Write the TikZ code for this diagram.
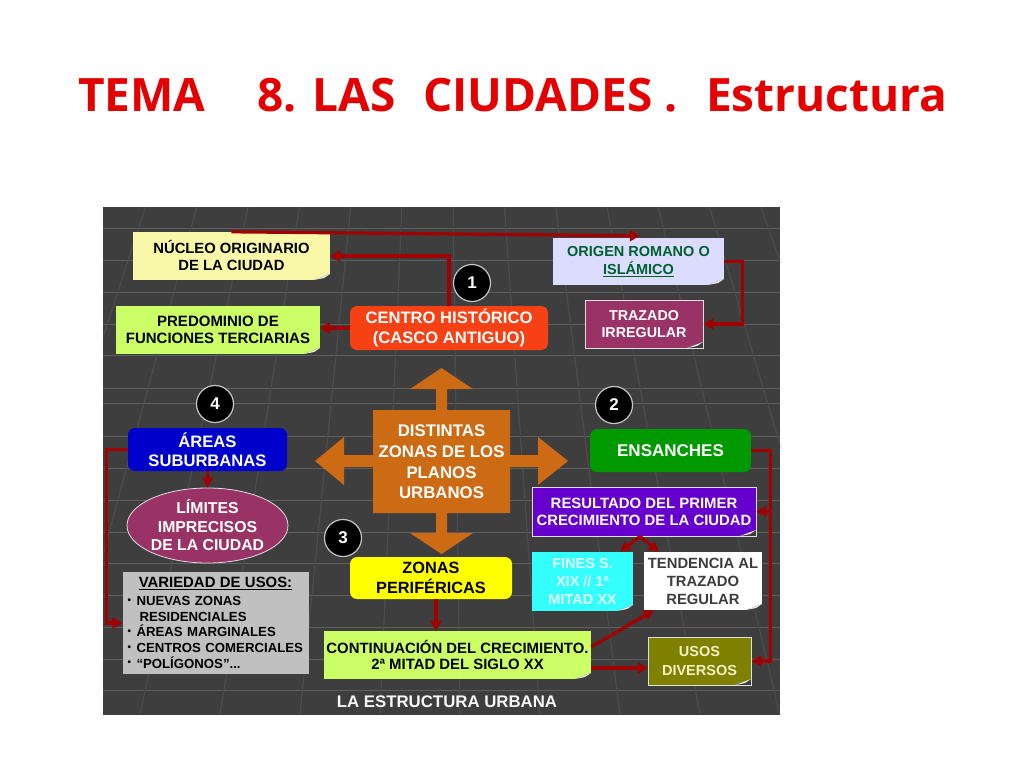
\documentclass[tikz,border=0pt]{standalone}
\usepackage{fontspec}
\setmainfont{Liberation Sans}
\newfontfamily\titlefont{Open Sans}
\usetikzlibrary{arrows.meta,shapes.geometric}
\newcommand\myfs[2]{\fontsize{#1}{#2}\selectfont}
\newcommand\mybul{\makebox[9pt][l]{\raisebox{2.5pt}{\myfs{10}{10}•}}}
\definecolor{bgc}{RGB}{62,62,62}
\definecolor{gridh}{RGB}{95,95,95}
\definecolor{gridv}{RGB}{76,76,76}
\definecolor{titlered}{RGB}{228,0,0}
\definecolor{linkred}{RGB}{160,0,0}
\definecolor{cnucleo}{RGB}{248,248,168}
\definecolor{cgreenl}{RGB}{204,255,102}
\definecolor{ccentro}{RGB}{245,65,20}
\definecolor{corigen}{RGB}{220,220,255}
\definecolor{corigtx}{RGB}{0,96,48}
\definecolor{cmag}{RGB}{153,51,102}
\definecolor{careas}{RGB}{0,0,204}
\definecolor{cens}{RGB}{0,153,0}
\definecolor{cres}{RGB}{102,0,204}
\definecolor{cfines}{RGB}{51,255,255}
\definecolor{cfinestx}{RGB}{225,255,255}
\definecolor{ctendtx}{RGB}{60,60,60}
\definecolor{czonas}{RGB}{255,255,0}
\definecolor{cvar}{RGB}{192,192,192}
\definecolor{cusos}{RGB}{128,128,0}
\definecolor{cusostx}{RGB}{242,242,195}
\definecolor{ccross}{RGB}{205,106,20}
\begin{document}
\begin{tikzpicture}[x=1pt,y=-1pt,
  box/.style={rectangle, inner sep=0pt, align=center, font=\bfseries\myfs{15}{17}},
  note/.style={box, path picture={
     \fill[bgc] ([xshift=-16pt]path picture bounding box.south east) -- (path picture bounding box.south east) -- ([yshift=6pt]path picture bounding box.south east) -- cycle;
     \fill[white!88!gray] ([xshift=-16pt]path picture bounding box.south east) -- ([yshift=6pt]path picture bounding box.south east) -- ([xshift=-6pt,yshift=2pt]path picture bounding box.south east) -- cycle;}},
  rbox/.style={box, rounded corners=7pt},
  num/.style={circle, fill=black, draw=gray!45, line width=1.2pt, minimum size=37pt, inner sep=0pt, text=white, font=\bfseries\myfs{17}{17}},
  conn/.style={draw=linkred, line width=3.2pt, -{Triangle[length=10pt,width=11pt]}},
  ttl/.style={anchor=base west, inner sep=0pt, text=titlered, font=\titlefont\bfseries\myfs{46}{50}}
]
\useasboundingbox (0,0) rectangle (1024,768);
\fill[white] (0,0) rectangle (1024,768);

% title
\node[ttl] (t1) at (78,111) {TEMA};
\node[ttl] (t2) at (257,111) {8. LAS};
\node[ttl] (t3) at (423,111) {CIUDADES .};
\node[ttl] (t4) at (706,111) {Estructura};

% background panel
\fill[bgc] (103,207) rectangle (780,715);
\begin{scope}
\clip (103,207) rectangle (780,715);
\foreach \yy in {228,260,292,324,355,388,403,436,468,500,532,563,595,627,659,690}
  \draw[gridh, line width=1pt] (103,\yy) -- (780,\yy);
\foreach \xx in {-500,-420,...,1400}
  \draw[gridv, line width=1.2pt] (441,-700) -- (\xx,715);
\end{scope}

% central cross
\fill[ccross] (441.5,368) -- (473,389) -- (447,389) -- (447,410) -- (510,410) -- (510,455) -- (538,455) -- (538,437) -- (568,461) -- (538,485) -- (538,467) -- (510,467) -- (510,513) -- (447,513) -- (447,533) -- (473,533) -- (441.5,554) -- (410,533) -- (436,533) -- (436,513) -- (373,513) -- (373,467) -- (344,467) -- (344,485) -- (315,461) -- (344,437) -- (344,455) -- (373,455) -- (373,410) -- (436,410) -- (436,389) -- (410,389) -- cycle;
\node[box, text=white, font=\bfseries\myfs{16.8}{20.7}] (planos) at (441.5,462) {DISTINTAS\\ZONAS DE LOS\\PLANOS\\URBANOS};

% nodes
\node[note, fill=cnucleo, minimum width=197pt, minimum height=48pt, font=\bfseries\myfs{14.8}{17}] (nucleo) at (231.5,256) {NÚCLEO ORIGINARIO\\DE LA CIUDAD};
\node[note, fill=cgreenl, minimum width=204pt, minimum height=48pt, font=\bfseries\myfs{15}{16.5}] (predom) at (218,330) {PREDOMINIO DE\\FUNCIONES TERCIARIAS};
\node[rbox, fill=ccentro, text=white, minimum width=198pt, minimum height=44pt, font=\bfseries\myfs{16.6}{20}] (centro) at (449,328) {CENTRO HISTÓRICO\\(CASCO ANTIGUO)};
\node[num] (n1) at (472,283) {1};
\node[note, fill=corigen, text=corigtx, minimum width=171pt, minimum height=47pt, font=\bfseries\myfs{14.5}{18}] (origen) at (638.5,261.5) {ORIGEN ROMANO O\\\underline{ISLÁMICO}};
\node[note, fill=cmag, draw=white!75!gray, line width=0.8pt, text=white, minimum width=118pt, minimum height=48pt, font=\bfseries\myfs{14.3}{16.5}] (trazado) at (644,324) {TRAZADO\\IRREGULAR};

\node[num] (n4) at (215,404) {4};
\node[rbox, fill=careas, text=white, minimum width=159pt, minimum height=43pt, font=\bfseries\myfs{16.6}{19.5}] (areas) at (207.5,449.5) {ÁREAS\\SUBURBANAS};
\node[ellipse, fill=cmag, draw=white!75!gray, line width=0.8pt, inner sep=0pt, minimum width=161pt, minimum height=75pt, align=center, text=white, font=\bfseries\myfs{15.8}{18.5}] (limites) at (207.5,525.5) {LÍMITES\\IMPRECISOS\\DE LA CIUDAD};

\node[num] (n2) at (614,405) {2};
\node[rbox, fill=cens, text=white, minimum width=161pt, minimum height=43pt, font=\bfseries\myfs{17}{20}] (ensanches) at (670.5,450.5) {ENSANCHES};
\node[note, fill=cres, draw=white!75!gray, line width=0.8pt, text=white, minimum width=224pt, minimum height=49pt, font=\bfseries\myfs{14.9}{17}] (resultado) at (644,511.5) {RESULTADO DEL PRIMER\\CRECIMIENTO DE LA CIUDAD};
\node[note, fill=cfines, text=cfinestx, minimum width=101pt, minimum height=59pt, font=\bfseries\myfs{14.5}{18}] (fines) at (582.5,581.5) {FINES S.\\XIX // 1ª\\MITAD XX};
\node[note, fill=white, text=ctendtx, minimum width=118pt, minimum height=58pt, font=\bfseries\myfs{14.8}{18}] (tendencia) at (703,581) {TENDENCIA AL\\TRAZADO\\REGULAR};

\node[num] (n3) at (343,538) {3};
\node[rbox, fill=czonas, text=black, minimum width=162pt, minimum height=42pt, font=\bfseries\myfs{16.3}{19.5}] (zonas) at (431,578) {ZONAS\\PERIFÉRICAS};
\node[box, fill=cvar, text=black, minimum width=186pt, minimum height=102pt, text width=176pt, align=left, font=\bfseries\myfs{13.2}{15.7}] (variedad) at (215.5,623) {\makebox[\linewidth][c]{\myfs{14.9}{17}\underline{VARIEDAD DE USOS:}}\\[2pt]
\mybul NUEVAS ZONAS\\
\hspace*{12pt}RESIDENCIALES\\
\mybul ÁREAS MARGINALES\\
\mybul CENTROS COMERCIALES\\
\mybul “POLÍGONOS”...};
\node[note, fill=cgreenl, text=black, minimum width=267pt, minimum height=48pt, font=\bfseries\myfs{14.9}{15.5}] (contin) at (457.5,655) {CONTINUACIÓN DEL CRECIMIENTO.\\2ª MITAD DEL SIGLO XX};
\node[note, fill=cusos, draw=white!75!gray, line width=0.8pt, text=cusostx, minimum width=103pt, minimum height=48pt, font=\bfseries\myfs{14.5}{19}] (usos) at (699.5,661) {USOS\\DIVERSOS};

\node[box, text=white!94!gray, font=\bfseries\myfs{16.8}{18}] (estructura) at (447,702) {LA ESTRUCTURA URBANA};

% connectors
\draw[conn] (centro.north) |- (nucleo.east);
\draw[conn] (nucleo.north) -- ([xshift=87pt,yshift=2pt]origen.north west);
\draw[conn] (origen.east) -- ++(18,0) |- (trazado.east);
\draw[conn] (centro.west) -- (centro.west -| predom.east);
\draw[conn] (areas.west) -- ++(-21,0) |- (variedad.west);
\draw[conn] (areas.south) -- (limites.north);
\draw[conn] (ensanches.east) -- ++(19,0) coordinate (ej) |- (usos.east);
\draw[conn] (ej |- resultado.east) -- (resultado.east);
\draw[conn] ([xshift=-4pt]resultado.south) -- ([xshift=-13pt]fines.north east);
\draw[conn] ([xshift=-4pt]resultado.south) -- ([xshift=15pt]tendencia.north west);
\draw[conn] ([xshift=5pt]zonas.south) -- ([xshift=5pt]zonas.south |- contin.north);
\draw[conn] ([yshift=8pt]contin.east) -- ([xshift=10pt]tendencia.south west);
\draw[conn] ([yshift=-13pt]contin.east) -- ([yshift=-13pt]contin.east -| usos.west);
\end{tikzpicture}
\end{document}
